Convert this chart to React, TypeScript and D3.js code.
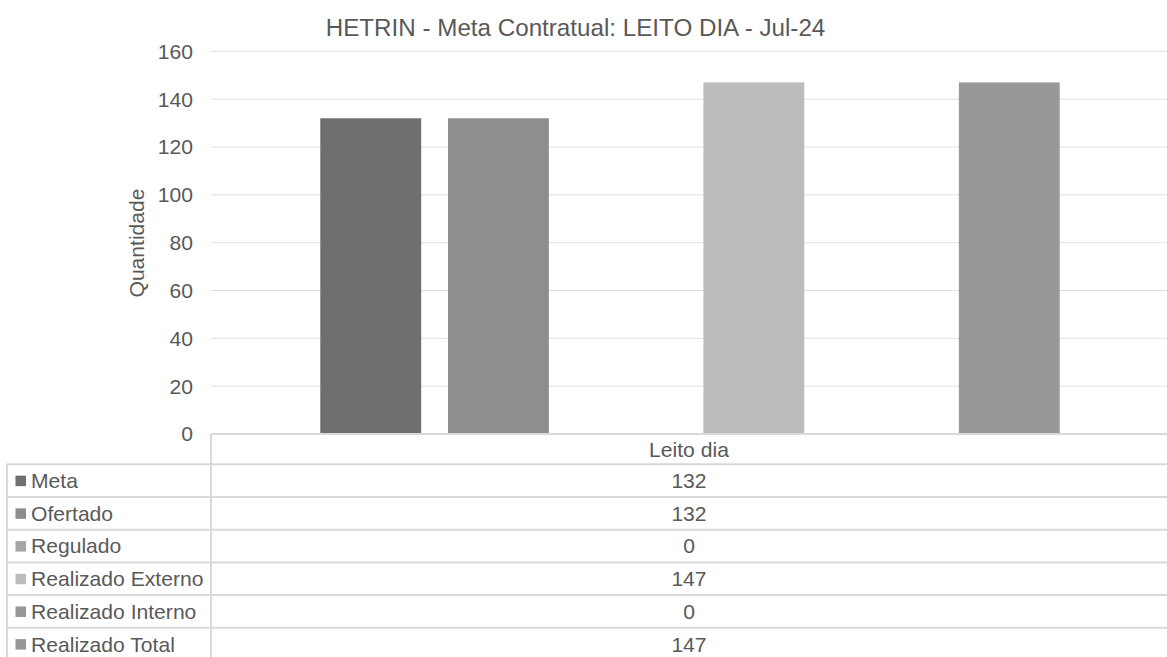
import React from "react";
import * as d3 from "d3";

const title = "HETRIN - Meta Contratual: LEITO DIA - Jul-24";
const categories = ["Leito dia"];
const seriesNames = ["Meta", "Ofertado", "Regulado", "Realizado Externo", "Realizado Interno", "Realizado Total"];
const seriesValues = [132, 132, 0, 147, 0, 147];
const seriesColors = ["#6f6f6f", "#8e8e8e", "#a6a6a6", "#bcbcbc", "#979797", "#989898"];
const yTicks = [0, 20, 40, 60, 80, 100, 120, 140, 160];
const yLabel = "Quantidade";

const W = 1167;
const H = 657;
const plotLeft = 211;
const plotRight = 1167;
const plotTop = 51.3;
const plotBottom = 434;
const tableLeft = 7;
const headerH = 30.3;
const rowH = 32.7;
const textColor = "#595959";
const lineColor = "#d9d9d9";
const font = "'Liberation Sans', Arial, sans-serif";
const fs = 21.1;

export default function App() {
  const y = d3.scaleLinear().domain([0, 160]).range([plotBottom, plotTop]);
  const xCat = d3.scaleBand().domain(categories).range([plotLeft, plotRight]).padding(0);
  const xSeries = d3
    .scaleBand()
    .domain(seriesNames)
    .range([2, xCat.bandwidth()])
    .paddingInner(0.21)
    .paddingOuter(0.84);

  const headerTop = plotBottom;
  const rowsTop = headerTop + headerH;
  const colCenter = (plotLeft + plotRight) / 2;

  return (
    <svg width={W} height={H} style={{ position: "absolute", left: 0, top: 0, background: "#fff" }} fontFamily={font}>
      <rect x={0} y={0} width={W} height={H} fill="#fff" />
      <text x={575.5} y={36} textAnchor="middle" fontSize={24.2} fill={textColor}>
        {title}
      </text>
      {yTicks.map((t) => (
        <g key={t}>
          {t !== 0 && (
            <line x1={plotLeft} x2={plotRight} y1={y(t)} y2={y(t)} stroke="#e0e0e0" strokeWidth={1} />
          )}
          <text x={193} y={y(t)} dy="0.35em" textAnchor="end" fontSize={fs} fill={textColor}>
            {t}
          </text>
        </g>
      ))}
      <text
        transform={`translate(${137},${243}) rotate(-90)`}
        textAnchor="middle"
        dy="0.35em"
        fontSize={fs}
        fill={textColor}
      >
        {yLabel}
      </text>
      {categories.map((c) => (
        <g key={c}>
          {seriesNames.map((s, i) => {
            const v = seriesValues[i];
            const x0 = (xCat(c) as number) + (xSeries(s) as number);
            return (
              <rect
                key={s}
                x={x0}
                y={y(v)}
                width={xSeries.bandwidth()}
                height={plotBottom - y(v)}
                fill={seriesColors[i]}
              />
            );
          })}
        </g>
      ))}
      {/* data table */}
      <line x1={plotLeft} x2={plotRight} y1={headerTop} y2={headerTop} stroke={lineColor} strokeWidth={2} />
      <line x1={plotLeft} x2={plotLeft} y1={headerTop} y2={H} stroke={lineColor} strokeWidth={2} />
      <line x1={tableLeft} x2={tableLeft} y1={rowsTop} y2={H} stroke={lineColor} strokeWidth={2} />
      {categories.map((c) => (
        <text key={c} x={colCenter} y={headerTop + headerH / 2} dy="0.35em" textAnchor="middle" fontSize={fs} fill={textColor}>
          {c}
        </text>
      ))}
      {seriesNames.map((s, i) => {
        const top = rowsTop + i * rowH;
        const cy = top + rowH / 2;
        return (
          <g key={s}>
            <line x1={tableLeft} x2={plotRight} y1={top} y2={top} stroke={lineColor} strokeWidth={2} />
            <rect x={15.5} y={cy - 5} width={10.5} height={10.5} fill={seriesColors[i]} />
            <text x={31} y={cy} dy="0.35em" fontSize={fs} fill={textColor}>
              {s}
            </text>
            <text x={colCenter} y={cy} dy="0.35em" textAnchor="middle" fontSize={fs} fill={textColor}>
              {seriesValues[i]}
            </text>
          </g>
        );
      })}
    </svg>
  );
}
